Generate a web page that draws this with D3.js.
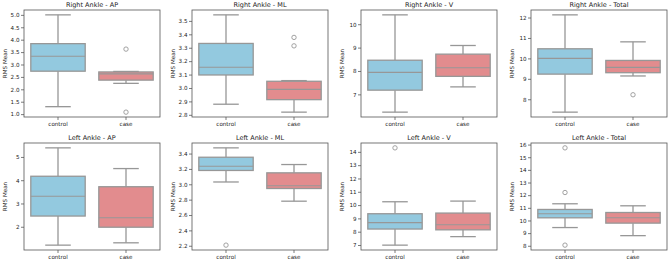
<!DOCTYPE html>
<html>
<head>
<meta charset="utf-8">
<script src="https://cdn.jsdelivr.net/npm/d3@7"></script>
<style>
  body { margin: 0; background: #fff; }
  svg { display: block; font-family: "DejaVu Sans", sans-serif; }
</style>
</head>
<body>
<div id="chart"></div>
<script>
// panel titles, row by row
const titles = [
  "Right Ankle - AP", "Right Ankle - ML", "Right Ankle - V", "Right Ankle - Total",
  "Left Ankle - AP", "Left Ankle - ML", "Left Ankle - V", "Left Ankle - Total"
];
const groups = ["control", "case"];

// [lower whisker, q1, median, q3, upper whisker]
const controlStats = [
  [1.30, 2.73, 3.33, 3.84, 5.00],
  [2.879, 3.097, 3.154, 3.332, 3.545],
  [6.24, 7.18, 7.94, 8.46, 10.40],
  [7.37, 9.23, 10.00, 10.47, 12.13],
  [1.21, 2.46, 3.31, 4.17, 5.39],
  [3.03, 3.18, 3.235, 3.352, 3.474],
  [6.99, 8.20, 8.68, 9.35, 10.25],
  [9.44, 10.21, 10.53, 10.87, 11.32]
];
const caseStats = [
  [2.24, 2.37, 2.62, 2.70, 2.72],
  [2.82, 2.913, 2.99, 3.05, 3.055],
  [7.32, 7.77, 8.14, 8.72, 9.09],
  [9.14, 9.30, 9.56, 9.90, 10.81],
  [1.31, 1.98, 2.39, 3.72, 4.50],
  [2.78, 2.945, 2.98, 3.149, 3.257],
  [7.63, 8.14, 8.52, 9.40, 10.30],
  [8.80, 9.79, 10.21, 10.63, 11.16]
];
const controlFliers = [[], [], [], [], [], [2.208], [14.30], [15.74, 12.21, 8.05]];
const caseFliers = [[3.62, 1.08], [3.377, 3.314], [], [8.22], [], [], [], []];

const yTicks = [
  [1.0, 1.5, 2.0, 2.5, 3.0, 3.5, 4.0, 4.5, 5.0],
  [2.8, 2.9, 3.0, 3.1, 3.2, 3.3, 3.4, 3.5],
  [7, 8, 9, 10],
  [8, 9, 10, 11, 12],
  [2, 3, 4, 5],
  [2.2, 2.4, 2.6, 2.8, 3.0, 3.2, 3.4],
  [7, 8, 9, 10, 11, 12, 13, 14],
  [8, 9, 10, 11, 12, 13, 14, 15, 16]
];
const tickDecimals = [1, 1, 0, 0, 0, 1, 0, 0];

const fills = { control: "#93c9df", case: "#e28c8e" };
const lineColor = "#979797";

const W = 669, H = 260;
const colLeft = [24, 192, 361, 531];
const rowTop = [10, 143];
const pw = 136, ph = 107;

const svg = d3.select("#chart").append("svg")
  .attr("width", W).attr("height", H);

titles.forEach(function (title, i) {
  const col = i % 4, row = Math.floor(i / 4);
  const g = svg.append("g")
    .attr("transform", "translate(" + colLeft[col] + "," + rowTop[row] + ")");

  const stats = [controlStats[i], caseStats[i]];
  const fliers = [controlFliers[i], caseFliers[i]];
  const all = d3.merge(stats.concat(fliers));
  const lo = d3.min(all), hi = d3.max(all);
  const pad = (hi - lo) * 0.05;

  const x = d3.scaleBand().domain(groups).range([0, pw]);
  const y = d3.scaleLinear().domain([lo - pad, hi + pad]).range([ph, 0]);
  const boxW = x.bandwidth() * 0.8;
  const capW = boxW * 0.47;

  // y axis
  const yAxis = g.append("g")
    .call(d3.axisLeft(y).tickValues(yTicks[i]).tickSize(3)
      .tickFormat(d3.format("." + tickDecimals[i] + "f")));
  yAxis.select(".domain").remove();
  yAxis.selectAll("line").attr("stroke", "#444").attr("stroke-width", 0.7);
  yAxis.selectAll("text").attr("font-size", 5.6).attr("fill", "#222")
    .attr("x", -4.5).attr("font-family", "DejaVu Sans");

  // x axis
  const xAxis = g.append("g").attr("transform", "translate(0," + ph + ")")
    .call(d3.axisBottom(x).tickSize(3));
  xAxis.select(".domain").remove();
  xAxis.selectAll("line").attr("stroke", "#444").attr("stroke-width", 0.7);
  xAxis.selectAll("text").attr("font-size", 5.6).attr("fill", "#222")
    .attr("y", 5).attr("font-family", "DejaVu Sans");

  groups.forEach(function (grp, k) {
    const s = stats[k];
    const cx = x(grp) + x.bandwidth() / 2;
    // whiskers
    g.append("line").attr("x1", cx).attr("x2", cx)
      .attr("y1", y(s[0])).attr("y2", y(s[1]))
      .attr("stroke", lineColor).attr("stroke-width", 1.3);
    g.append("line").attr("x1", cx).attr("x2", cx)
      .attr("y1", y(s[3])).attr("y2", y(s[4]))
      .attr("stroke", lineColor).attr("stroke-width", 1.3);
    // caps
    [s[0], s[4]].forEach(function (v) {
      g.append("line").attr("x1", cx - capW / 2).attr("x2", cx + capW / 2)
        .attr("y1", y(v)).attr("y2", y(v))
        .attr("stroke", lineColor).attr("stroke-width", 1.3);
    });
    // box
    g.append("rect")
      .attr("x", cx - boxW / 2).attr("width", boxW)
      .attr("y", y(s[3])).attr("height", y(s[1]) - y(s[3]))
      .attr("fill", fills[grp]).attr("stroke", lineColor).attr("stroke-width", 1.3);
    // median
    g.append("line").attr("x1", cx - boxW / 2).attr("x2", cx + boxW / 2)
      .attr("y1", y(s[2])).attr("y2", y(s[2]))
      .attr("stroke", lineColor).attr("stroke-width", 1.1);
    // fliers
    g.selectAll(".flier-" + k).data(fliers[k]).enter().append("circle")
      .attr("cx", cx).attr("cy", (d) => y(d)).attr("r", 2.2)
      .attr("fill", "none").attr("stroke", lineColor).attr("stroke-width", 0.9);
  });

  // frame
  g.append("rect").attr("width", pw).attr("height", ph)
    .attr("fill", "none").attr("stroke", "#555").attr("stroke-width", 0.8);

  g.append("text").attr("x", pw / 2).attr("y", -3)
    .attr("text-anchor", "middle").attr("font-size", 6.5).attr("fill", "#222")
    .text(title);

  g.append("text")
    .attr("transform", "translate(-17," + ph / 2 + ") rotate(-90)")
    .attr("text-anchor", "middle").attr("font-size", 5.6).attr("fill", "#222")
    .text("RMS Mean");
});
</script>
</body>
</html>
